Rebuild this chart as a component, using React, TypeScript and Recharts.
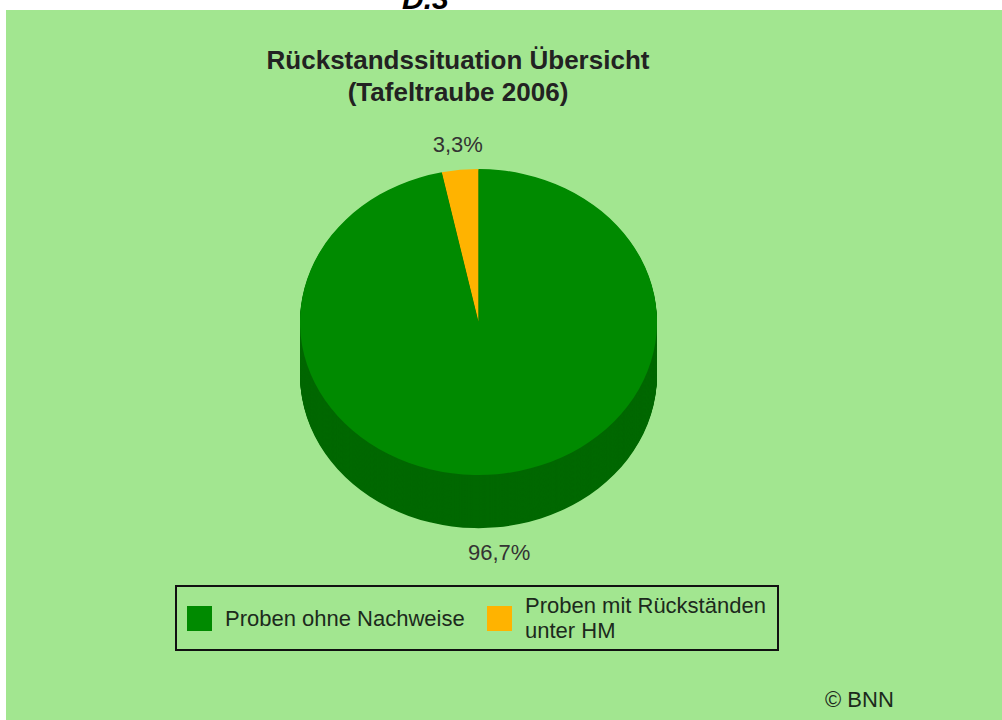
import React from "react";
import { Pie, PieChart } from "recharts";

// Rückstandssituation, Tafeltraube 2006 (Anteile in %)
const sliceNames = ["Proben mit Rückständen unter HM", "Proben ohne Nachweise"];
const sliceValues = [3.3, 96.7];
const topColors = ["#FFB300", "#008A00"];
const sideColors = ["#C98C00", "#006800"];

const legendOrder = [1, 0];
const legendLines = [["Proben mit Rückständen", "unter HM"], ["Proben ohne Nachweise"]];

const data = sliceNames.map((name, i) => ({ name, value: sliceValues[i] }));
const topData = data.map((d, i) => ({ ...d, fill: topColors[i] }));
const sideData = data.map((d, i) => ({ ...d, fill: sideColors[i] }));

// fake 3D: circle pie squashed vertically, plus stacked darker layers
const SQUASH = 153 / 178.5;
const CX = 478.5;
const CY = 322 / SQUASH;
const R = 178.5;
const DEPTH = Math.round(53 / SQUASH);
const layers = Array.from({ length: DEPTH }, (_, i) => DEPTH - i);

const RAD = Math.PI / 180;
const fmt = (v: number) => v.toFixed(1).replace(".", ",") + "%";

const renderLabel = (p: any) => {
  const s = Math.sin(p.midAngle * RAD);
  const c = Math.cos(p.midAngle * RAD);
  const x = p.cx + c * 200;
  let ys = p.cy * SQUASH - s * 178;
  if (s < 0) ys += 53;
  return (
    <text
      key={p.index}
      transform={`translate(${x} ${ys / SQUASH}) scale(1 ${1 / SQUASH})`}
      textAnchor="middle"
      dominantBaseline="central"
      fontSize={22}
      fill="#333"
      fontFamily="'Liberation Sans', Arial, sans-serif"
    >
      {fmt(p.value)}
    </text>
  );
};

export default function App() {
  return (
    <div style={{ position: "relative", width: 1002, height: 720, background: "#fff", fontFamily: "'Liberation Sans', Arial, sans-serif", overflow: "hidden" }}>
      <style>{"body{margin:0}"}</style>
      <div style={{ position: "absolute", left: 402, top: -18, fontSize: 30, fontWeight: "bold", fontStyle: "italic", color: "#000" }}>D.3</div>
      <div style={{ position: "absolute", left: 6, top: 10, right: 0, bottom: 0, background: "#A2E690" }} />
      <div style={{ position: "absolute", left: 0, width: 916, top: 44, textAlign: "center", fontSize: 26, fontWeight: "bold", color: "#222", lineHeight: "32px" }}>
        Rückstandssituation Übersicht
        <br />
        (Tafeltraube 2006)
      </div>
      <div style={{ position: "absolute", left: 0, top: 0, width: 1002, height: 700, transform: `scaleY(${SQUASH})`, transformOrigin: "0 0" }}>
        <PieChart width={1002} height={700} margin={{ top: 0, right: 0, bottom: 0, left: 0 }}>
          {layers.map((d) => (
            <Pie
              key={d}
              data={sideData}
              dataKey="value"
              cx={CX}
              cy={CY + d}
              outerRadius={R}
              startAngle={90}
              endAngle={450}
              stroke="none"
              isAnimationActive={false}
            />
          ))}
          <Pie
            data={topData}
            dataKey="value"
            cx={CX}
            cy={CY}
            outerRadius={R}
            startAngle={90}
            endAngle={450}
            stroke="none"
            label={renderLabel}
            labelLine={false}
            isAnimationActive={false}
          />
        </PieChart>
      </div>
      <div style={{ position: "absolute", left: 175, top: 585, width: 604, height: 66, boxSizing: "border-box", border: "2px solid #111" }}>
        {legendOrder.map((i, k) => (
          <div key={i} style={{ position: "absolute", left: k === 0 ? 10 : 310, top: 0, height: 62, display: "flex", alignItems: "center" }}>
            <div style={{ width: 25, height: 25, background: topColors[i], marginRight: 13 }} />
            <div style={{ fontSize: 22, color: "#1c2a1c", lineHeight: "25px" }}>
              {legendLines[i].map((l) => (
                <div key={l}>{l}</div>
              ))}
            </div>
          </div>
        ))}
      </div>
      <div style={{ position: "absolute", left: 825, top: 687, fontSize: 22, color: "#1c2a1c" }}>© BNN</div>
    </div>
  );
}
